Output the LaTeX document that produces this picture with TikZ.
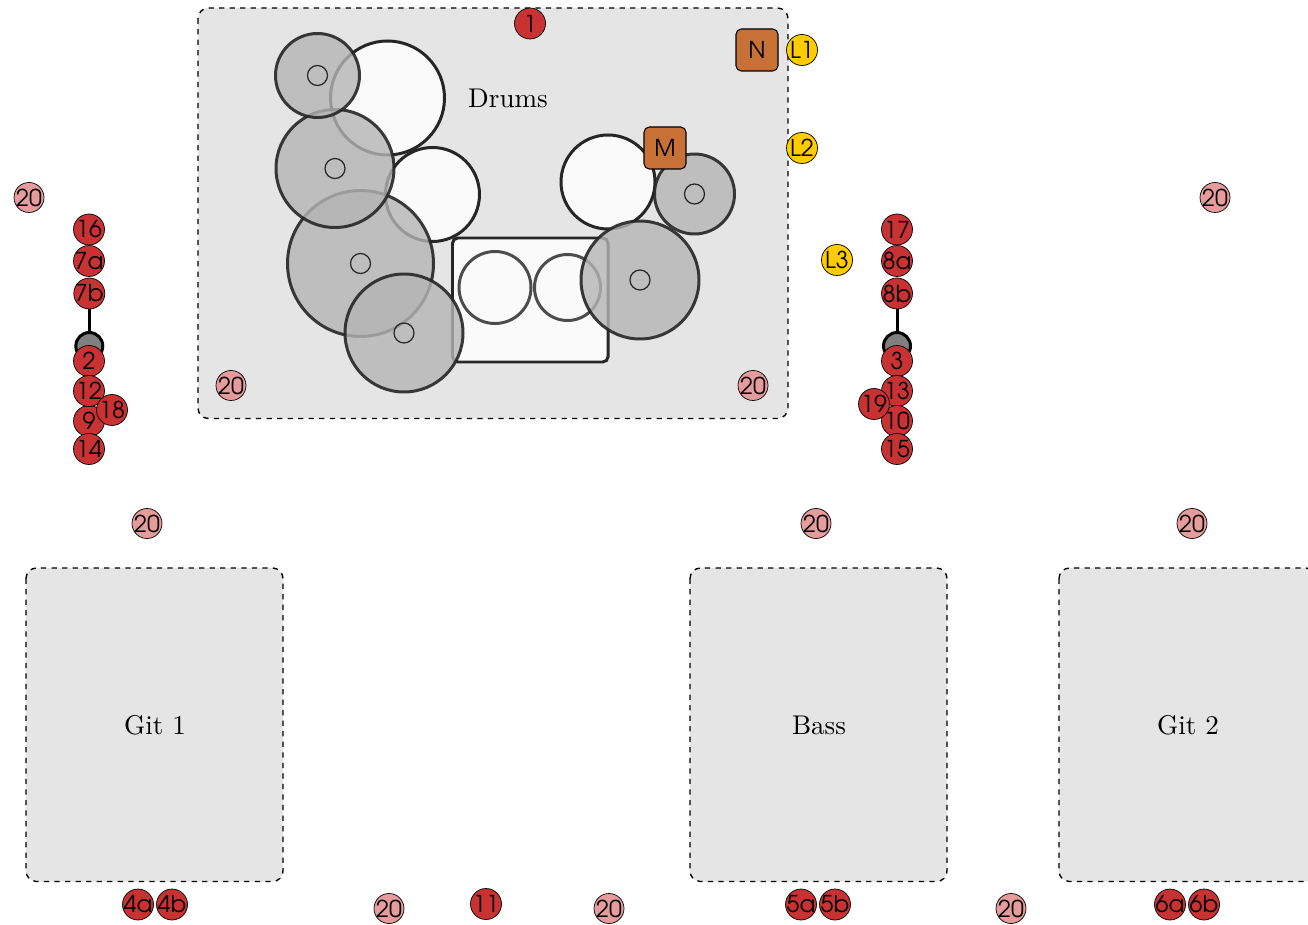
\documentclass[tikz,border=0pt]{standalone}
\usetikzlibrary{positioning}
\definecolor{zone}{HTML}{E5E5E5}
\definecolor{micred}{HTML}{C83232}
\definecolor{monpink}{HTML}{E69C9C}
\definecolor{linegold}{HTML}{FFCC00}
\definecolor{ampbrown}{HTML}{C87137}
\newcommand{\badgefont}{\usefont{OT1}{pag}{m}{n}\fontsize{13.2}{15}\selectfont}
\newcommand{\badgetext}[1]{\makebox[0pt]{#1}}
\tikzset{
  zone/.style={draw=black,fill=zone,dashed,line width=0.8pt,rounded corners=6pt},
  zonelabel/.style={scale=1.54},
  shell/.style={draw=black!85,line width=1.7pt,fill=black!2},
  metal/.style={draw=black!85,line width=1.7pt,fill=black!29,fill opacity=0.8,draw opacity=0.9},
  badge/.style={circle,draw=black,line width=0.4pt,inner sep=0pt,minimum size=0.62cm,font=\badgefont},
  mic/.style={badge,fill=micred},
  mon/.style={badge,fill=monpink,minimum size=0.6cm},
  linein/.style={badge,fill=linegold},
  amp/.style={draw=black,line width=0.6pt,fill=ampbrown,rounded corners=3pt,inner sep=0pt,minimum size=0.84cm,font=\badgefont},
  stand/.style={circle,draw=black,line width=1.7pt,fill=black!50,inner sep=0pt,minimum size=0.54cm},
}
\begin{document}
\begin{tikzpicture}[x=0.02cm,y=-0.02cm]
  \useasboundingbox (0,0) rectangle (1308,925);
  \clip (0,0) rectangle (1308,925);
  % stage zones
  \draw[zone] (198,8) rectangle (788,418.5);
  \draw[zone] (26,568) rectangle (283,881.5);
  \draw[zone] (690,568) rectangle (947,881.5);
  \draw[zone] (1059,568) rectangle (1316,881.5);
  \node[zonelabel] (drums) at (508,98) {Drums};
  \node[zonelabel] (git1) at (155,725) {Git 1};
  \node[zonelabel] (bass) at (819,725) {Bass};
  \node[zonelabel] (git2) at (1188,725) {Git 2};
  % kit
  \foreach \x/\y/\r in {387.5/98/57,432.5/194.5/47,608/182/47}{
    \draw[shell] (\x,\y) circle (\r);
  }
  \draw[shell,rounded corners=3pt] (452.5,238) rectangle (608,362);
  \draw[shell,draw=black!70] (495,287.5) circle (36);
  \draw[shell,draw=black!70] (567.5,287.5) circle (33);
  \foreach \x/\y/\r in {360.5/263.5/73,404/333/59,335/168.5/59,317.5/75.5/42,694.5/194/40,640/280/59}{
    \draw[metal] (\x,\y) circle (\r);
    \draw[black!85,line width=0.7pt] (\x,\y) circle (10);
  }
  % mic stands
  \node[stand] (standl) at (89.3,346) {};
  \node[stand] (standr) at (897,346) {};
  % players and mics
  \foreach \id/\x/\y in {16/89/229.5,7a/89/261,7b/89.3/293.5,2/89/361,9/89/421,12/89/391,14/89/449,18/112/410,
    17/897/229.5,8a/897/261,8b/897/293.5,3/897/361,13/897/391,10/897/421,15/897/449,19/874/404,
    1/530/23.5,11/486/904,4a/138/904.5,4b/172/904.5,5a/801/904.5,5b/835/904.5,6a/1170/904.5,6b/1204/904.5}{
    \node[mic] (m\id) at (\x,\y) {\badgetext{\id}};
  }
  \foreach \n/\x/\y in {a/29/197.5,b/1215/197.5,c/231/385.5,d/753/385.5,e/147/523.5,f/816/523.5,g/1192/523.5,h/389/908.5,i/609/908.5,j/1011/908.5}{
    \node[mon] (mon\n) at (\x,\y) {\badgetext{20}};
  }
  \node[linein] (l1) at (802,50) {\badgetext{L1}};
  \node[linein] (l2) at (802,148) {\badgetext{L2}};
  \node[linein] (l3) at (837,260) {\badgetext{L3}};
  \node[amp] (ampn) at (757,50) {N};
  \node[amp] (ampm) at (665,148) {M};
  \draw[line width=1.7pt] (m7b) -- (standl);
  \draw[line width=1.7pt] (m8b) -- (standr);
\end{tikzpicture}
\end{document}
